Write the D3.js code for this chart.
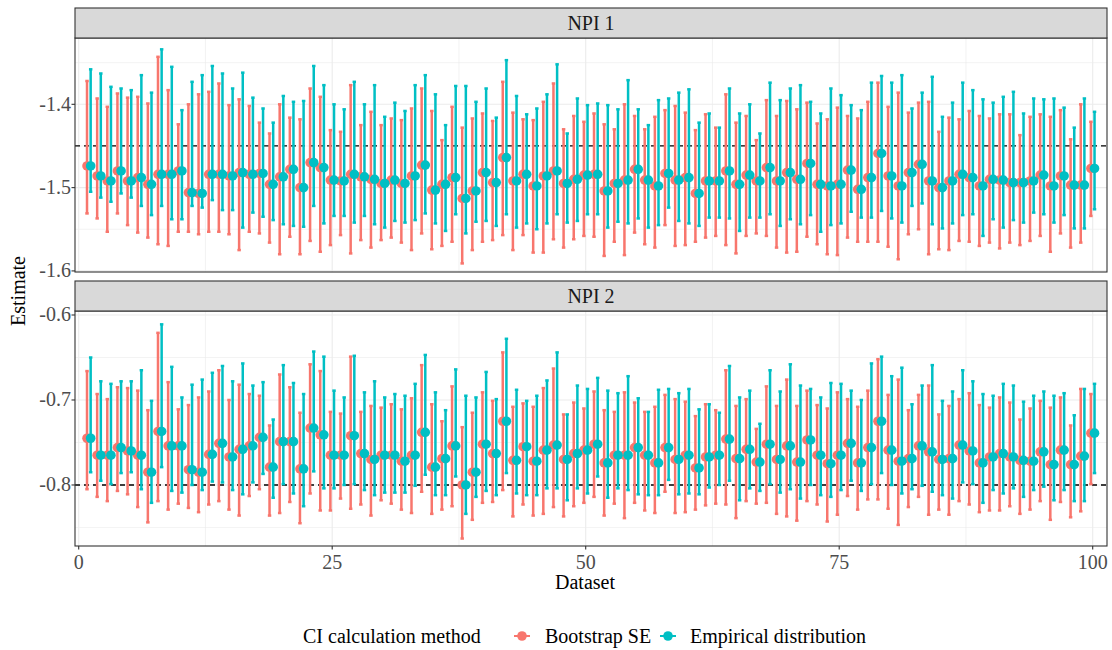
<!DOCTYPE html>
<html><head><meta charset="utf-8">
<script src="https://cdn.jsdelivr.net/npm/d3@7"></script>
<style>
body{margin:0;background:#fff}
text{font-family:"Liberation Serif","Times New Roman",serif}
</style>
</head><body>
<svg id="chart" width="1112" height="650"></svg>
<script>
// ---------- DATA ----------
const datasets = d3.range(1, 101);
const methods = ["Bootstrap SE", "Empirical distribution"];
const panelLabels = ["NPI 1", "NPI 2"];
const trueValues = [-1.45, -0.8];
const xTicks = [0, 25, 50, 75, 100];
const yTicks1 = [-1.6, -1.5, -1.4];
const yTicks2 = [-0.8, -0.7, -0.6];

const npi1Est = [-1.474,-1.486,-1.492,-1.480,-1.492,-1.488,-1.496,-1.484,-1.484,-1.480,
-1.506,-1.507,-1.484,-1.484,-1.486,-1.482,-1.484,-1.483,-1.496,-1.487,
-1.478,-1.500,-1.470,-1.476,-1.491,-1.492,-1.484,-1.487,-1.490,-1.495,
-1.491,-1.495,-1.486,-1.473,-1.503,-1.496,-1.488,-1.513,-1.504,-1.482,
-1.494,-1.464,-1.492,-1.484,-1.498,-1.486,-1.480,-1.495,-1.490,-1.485,
-1.484,-1.504,-1.495,-1.491,-1.478,-1.491,-1.498,-1.483,-1.491,-1.488,
-1.507,-1.492,-1.492,-1.480,-1.496,-1.485,-1.492,-1.476,-1.492,-1.482,
-1.490,-1.471,-1.496,-1.498,-1.496,-1.479,-1.502,-1.488,-1.459,-1.486,
-1.498,-1.482,-1.472,-1.492,-1.500,-1.492,-1.484,-1.488,-1.498,-1.490,
-1.491,-1.494,-1.494,-1.492,-1.485,-1.498,-1.486,-1.497,-1.497,-1.477];
const npi1BootLo = [-1.531,-1.537,-1.553,-1.531,-1.545,-1.554,-1.560,-1.568,-1.570,-1.553,
-1.553,-1.556,-1.553,-1.553,-1.556,-1.575,-1.553,-1.555,-1.566,-1.580,
-1.559,-1.580,-1.564,-1.577,-1.569,-1.557,-1.579,-1.563,-1.572,-1.563,
-1.560,-1.566,-1.575,-1.555,-1.574,-1.570,-1.565,-1.591,-1.575,-1.565,
-1.563,-1.557,-1.575,-1.557,-1.578,-1.578,-1.562,-1.572,-1.562,-1.558,
-1.559,-1.582,-1.565,-1.581,-1.554,-1.568,-1.572,-1.545,-1.570,-1.569,
-1.565,-1.560,-1.558,-1.569,-1.579,-1.558,-1.555,-1.558,-1.572,-1.578,
-1.577,-1.559,-1.568,-1.580,-1.581,-1.560,-1.565,-1.565,-1.565,-1.571,
-1.586,-1.556,-1.550,-1.580,-1.574,-1.575,-1.564,-1.565,-1.570,-1.566,
-1.573,-1.566,-1.569,-1.564,-1.558,-1.577,-1.555,-1.572,-1.566,-1.534];
const npi1BootHi = [-1.372,-1.393,-1.403,-1.387,-1.392,-1.391,-1.399,-1.343,-1.383,-1.424,
-1.400,-1.388,-1.385,-1.375,-1.401,-1.394,-1.402,-1.422,-1.435,-1.400,
-1.416,-1.418,-1.381,-1.391,-1.431,-1.433,-1.377,-1.425,-1.409,-1.425,
-1.417,-1.419,-1.405,-1.381,-1.408,-1.443,-1.403,-1.428,-1.417,-1.411,
-1.420,-1.373,-1.410,-1.418,-1.419,-1.397,-1.375,-1.430,-1.414,-1.421,
-1.411,-1.424,-1.430,-1.400,-1.414,-1.430,-1.415,-1.407,-1.402,-1.410,
-1.431,-1.412,-1.428,-1.388,-1.422,-1.414,-1.443,-1.395,-1.414,-1.396,
-1.406,-1.398,-1.423,-1.418,-1.404,-1.414,-1.417,-1.397,-1.374,-1.403,
-1.386,-1.410,-1.398,-1.397,-1.433,-1.416,-1.418,-1.408,-1.414,-1.417,
-1.412,-1.412,-1.437,-1.415,-1.412,-1.415,-1.407,-1.442,-1.400,-1.421];
const npi1EmpLo = [-1.505,-1.512,-1.517,-1.507,-1.512,-1.522,-1.533,-1.522,-1.538,-1.538,
-1.522,-1.524,-1.515,-1.527,-1.527,-1.548,-1.530,-1.535,-1.539,-1.544,
-1.546,-1.547,-1.522,-1.543,-1.534,-1.534,-1.542,-1.534,-1.544,-1.548,
-1.540,-1.542,-1.539,-1.531,-1.543,-1.552,-1.532,-1.555,-1.541,-1.540,
-1.546,-1.532,-1.548,-1.543,-1.550,-1.543,-1.532,-1.542,-1.540,-1.532,
-1.532,-1.548,-1.541,-1.543,-1.537,-1.548,-1.545,-1.524,-1.540,-1.543,
-1.546,-1.536,-1.536,-1.537,-1.552,-1.536,-1.536,-1.532,-1.546,-1.538,
-1.544,-1.533,-1.553,-1.545,-1.543,-1.529,-1.536,-1.536,-1.528,-1.537,
-1.542,-1.522,-1.519,-1.544,-1.549,-1.543,-1.533,-1.532,-1.558,-1.538,
-1.548,-1.539,-1.542,-1.530,-1.532,-1.542,-1.533,-1.549,-1.549,-1.526];
const npi1EmpHi = [-1.358,-1.363,-1.379,-1.381,-1.383,-1.365,-1.386,-1.334,-1.355,-1.407,
-1.373,-1.365,-1.354,-1.363,-1.381,-1.362,-1.392,-1.405,-1.422,-1.390,
-1.397,-1.396,-1.354,-1.377,-1.400,-1.406,-1.373,-1.400,-1.377,-1.415,
-1.398,-1.408,-1.377,-1.365,-1.388,-1.425,-1.378,-1.378,-1.397,-1.381,
-1.416,-1.347,-1.390,-1.412,-1.405,-1.388,-1.352,-1.435,-1.393,-1.401,
-1.399,-1.401,-1.406,-1.371,-1.406,-1.425,-1.395,-1.393,-1.386,-1.382,
-1.422,-1.411,-1.428,-1.381,-1.411,-1.400,-1.435,-1.374,-1.395,-1.381,
-1.377,-1.397,-1.411,-1.381,-1.389,-1.401,-1.407,-1.374,-1.366,-1.374,
-1.365,-1.405,-1.386,-1.367,-1.415,-1.398,-1.374,-1.383,-1.394,-1.398,
-1.391,-1.385,-1.411,-1.393,-1.394,-1.393,-1.404,-1.428,-1.393,-1.409];

const npi2Est = [-0.745,-0.765,-0.765,-0.756,-0.760,-0.765,-0.785,-0.737,-0.754,-0.754,
-0.782,-0.785,-0.764,-0.751,-0.767,-0.758,-0.754,-0.744,-0.779,-0.749,
-0.749,-0.781,-0.733,-0.741,-0.765,-0.765,-0.742,-0.763,-0.770,-0.765,
-0.765,-0.772,-0.765,-0.738,-0.779,-0.769,-0.754,-0.800,-0.785,-0.752,
-0.763,-0.725,-0.771,-0.755,-0.772,-0.759,-0.753,-0.770,-0.763,-0.759,
-0.752,-0.774,-0.765,-0.765,-0.756,-0.765,-0.774,-0.756,-0.770,-0.765,
-0.780,-0.767,-0.765,-0.746,-0.769,-0.758,-0.773,-0.752,-0.770,-0.754,
-0.773,-0.747,-0.765,-0.775,-0.765,-0.751,-0.774,-0.756,-0.725,-0.759,
-0.772,-0.769,-0.754,-0.761,-0.770,-0.769,-0.753,-0.760,-0.774,-0.767,
-0.763,-0.767,-0.771,-0.772,-0.761,-0.776,-0.759,-0.776,-0.766,-0.739];
const npi2BootLo = [-0.805,-0.814,-0.819,-0.807,-0.811,-0.826,-0.844,-0.819,-0.829,-0.822,
-0.827,-0.832,-0.823,-0.819,-0.829,-0.836,-0.813,-0.805,-0.836,-0.833,
-0.820,-0.845,-0.810,-0.830,-0.830,-0.816,-0.828,-0.823,-0.836,-0.818,
-0.822,-0.829,-0.833,-0.808,-0.834,-0.829,-0.825,-0.863,-0.841,-0.821,
-0.820,-0.806,-0.837,-0.823,-0.836,-0.834,-0.826,-0.837,-0.825,-0.821,
-0.814,-0.836,-0.822,-0.839,-0.821,-0.830,-0.833,-0.808,-0.833,-0.832,
-0.829,-0.824,-0.822,-0.823,-0.839,-0.819,-0.822,-0.821,-0.834,-0.837,
-0.842,-0.819,-0.823,-0.843,-0.835,-0.813,-0.829,-0.817,-0.817,-0.828,
-0.847,-0.826,-0.814,-0.835,-0.829,-0.835,-0.819,-0.823,-0.832,-0.830,
-0.830,-0.825,-0.834,-0.829,-0.819,-0.841,-0.820,-0.838,-0.831,-0.799];
const npi2BootHi = [-0.666,-0.693,-0.699,-0.685,-0.686,-0.689,-0.712,-0.621,-0.679,-0.711,
-0.706,-0.697,-0.690,-0.665,-0.700,-0.682,-0.693,-0.695,-0.730,-0.670,
-0.685,-0.715,-0.658,-0.666,-0.714,-0.716,-0.649,-0.714,-0.707,-0.709,
-0.705,-0.711,-0.698,-0.659,-0.705,-0.725,-0.684,-0.732,-0.715,-0.691,
-0.701,-0.644,-0.708,-0.704,-0.708,-0.686,-0.663,-0.717,-0.703,-0.710,
-0.690,-0.712,-0.714,-0.691,-0.703,-0.714,-0.708,-0.694,-0.699,-0.702,
-0.719,-0.705,-0.712,-0.665,-0.707,-0.699,-0.734,-0.684,-0.707,-0.676,
-0.707,-0.689,-0.706,-0.710,-0.691,-0.699,-0.708,-0.689,-0.652,-0.694,
-0.676,-0.712,-0.694,-0.683,-0.717,-0.707,-0.699,-0.692,-0.706,-0.709,
-0.697,-0.703,-0.723,-0.710,-0.701,-0.709,-0.697,-0.730,-0.687,-0.693];
const npi2EmpLo = [-0.785,-0.795,-0.799,-0.786,-0.785,-0.805,-0.821,-0.779,-0.807,-0.809,
-0.800,-0.806,-0.796,-0.797,-0.806,-0.811,-0.797,-0.787,-0.815,-0.799,
-0.810,-0.825,-0.784,-0.804,-0.804,-0.800,-0.799,-0.806,-0.812,-0.809,
-0.809,-0.809,-0.801,-0.788,-0.812,-0.812,-0.790,-0.834,-0.814,-0.807,
-0.812,-0.786,-0.810,-0.812,-0.812,-0.804,-0.804,-0.818,-0.804,-0.810,
-0.790,-0.815,-0.804,-0.806,-0.811,-0.812,-0.812,-0.794,-0.811,-0.810,
-0.811,-0.803,-0.800,-0.795,-0.818,-0.804,-0.807,-0.799,-0.809,-0.805,
-0.816,-0.800,-0.812,-0.814,-0.806,-0.795,-0.807,-0.799,-0.786,-0.800,
-0.810,-0.805,-0.801,-0.808,-0.812,-0.816,-0.797,-0.799,-0.821,-0.806,
-0.810,-0.804,-0.814,-0.806,-0.802,-0.818,-0.806,-0.819,-0.819,-0.786];
const npi2EmpHi = [-0.650,-0.678,-0.681,-0.678,-0.678,-0.665,-0.701,-0.611,-0.661,-0.697,
-0.682,-0.676,-0.668,-0.660,-0.678,-0.657,-0.683,-0.679,-0.723,-0.659,
-0.680,-0.693,-0.643,-0.649,-0.689,-0.697,-0.648,-0.691,-0.678,-0.697,
-0.693,-0.695,-0.681,-0.647,-0.691,-0.712,-0.664,-0.695,-0.697,-0.667,
-0.699,-0.628,-0.688,-0.701,-0.695,-0.677,-0.644,-0.717,-0.683,-0.687,
-0.674,-0.689,-0.692,-0.672,-0.698,-0.714,-0.688,-0.687,-0.692,-0.687,
-0.711,-0.705,-0.715,-0.660,-0.697,-0.689,-0.728,-0.665,-0.690,-0.658,
-0.683,-0.687,-0.697,-0.680,-0.681,-0.689,-0.700,-0.657,-0.649,-0.672,
-0.662,-0.705,-0.683,-0.659,-0.701,-0.690,-0.665,-0.678,-0.693,-0.695,
-0.681,-0.683,-0.702,-0.695,-0.690,-0.695,-0.692,-0.718,-0.687,-0.681];

// ---------- LAYOUT ----------
const colors = {"Bootstrap SE": "#F8766D", "Empirical distribution": "#00BFC4"};
const svg = d3.select("#chart");
const left = 75, right = 1107;
const x = d3.scaleLinear().domain([-0.365, 101.41]).range([left, right]);
const dodge = 0.18;
const capHalf = 0.17;

const panels = [
  {label: panelLabels[0], est: npi1Est, lo: [npi1BootLo, npi1EmpLo], hi: [npi1BootHi, npi1EmpHi],
   stripTop: 8, top: 38, bottom: 272, domain: [-1.6013, -1.3204], ticks: yTicks1, ref: trueValues[0]},
  {label: panelLabels[1], est: npi2Est, lo: [npi2BootLo, npi2EmpLo], hi: [npi2BootHi, npi2EmpHi],
   stripTop: 281, top: 311, bottom: 546, domain: [-0.8718, -0.5953], ticks: yTicks2, ref: trueValues[1]}
];

const fmt = v => v.toFixed(1);

panels.forEach((p, pi) => {
  const y = d3.scaleLinear().domain(p.domain).range([p.bottom, p.top]);
  const g = svg.append("g");
  g.append("rect").attr("x", left).attr("y", p.top).attr("width", right - left).attr("height", p.bottom - p.top).attr("fill", "#fff");
  const minorY = d3.range(p.ticks.length + 1).map(i => p.ticks[0] - 0.05 + i * 0.1).filter(v => v > p.domain[0] && v < p.domain[1]);
  const minorX = [12.5, 37.5, 62.5, 87.5];
  g.selectAll(".myg").data(minorY).join("line")
    .attr("x1", left).attr("x2", right).attr("y1", d => y(d)).attr("y2", d => y(d))
    .attr("stroke", "#ebebeb").attr("stroke-width", 0.6);
  g.selectAll(".mxg").data(minorX).join("line")
    .attr("x1", d => x(d)).attr("x2", d => x(d)).attr("y1", p.top).attr("y2", p.bottom)
    .attr("stroke", "#ebebeb").attr("stroke-width", 0.6);
  g.selectAll(".yg").data(p.ticks).join("line")
    .attr("x1", left).attr("x2", right).attr("y1", d => y(d)).attr("y2", d => y(d))
    .attr("stroke", "#ebebeb").attr("stroke-width", 1.1);
  g.selectAll(".xg").data(xTicks).join("line")
    .attr("x1", d => x(d)).attr("x2", d => x(d)).attr("y1", p.top).attr("y2", p.bottom)
    .attr("stroke", "#ebebeb").attr("stroke-width", 1.1);

  g.append("line").attr("x1", left).attr("x2", right).attr("y1", y(p.ref)).attr("y2", y(p.ref))
    .attr("stroke", "#000").attr("stroke-width", 1.3).attr("stroke-dasharray", "5,4");

  methods.forEach((m, mi) => {
    const off = mi === 0 ? -dodge : dodge;
    const eg = g.append("g").attr("stroke", colors[m]).attr("stroke-width", 2.5).attr("fill", "none");
    datasets.forEach((d, i) => {
      const cx = x(d + off);
      const lo = p.lo[mi][i], hi = p.hi[mi][i];
      eg.append("line").attr("x1", cx).attr("x2", cx).attr("y1", y(lo)).attr("y2", y(hi));
      eg.append("line").attr("x1", x(d + off - capHalf)).attr("x2", x(d + off + capHalf)).attr("y1", y(lo)).attr("y2", y(lo));
      eg.append("line").attr("x1", x(d + off - capHalf)).attr("x2", x(d + off + capHalf)).attr("y1", y(hi)).attr("y2", y(hi));
    });
  });
  methods.forEach((m, mi) => {
    const off = mi === 0 ? -dodge : dodge;
    g.append("g").selectAll("circle").data(datasets).join("circle")
      .attr("cx", d => x(d + off)).attr("cy", (d, i) => y(p.est[i])).attr("r", 4.8)
      .attr("fill", colors[m]);
  });

  g.append("rect").attr("x", left).attr("y", p.top).attr("width", right - left).attr("height", p.bottom - p.top)
    .attr("fill", "none").attr("stroke", "#333").attr("stroke-width", 1.1);
  g.append("rect").attr("x", left).attr("y", p.stripTop).attr("width", right - left).attr("height", p.top - p.stripTop)
    .attr("fill", "#d9d9d9").attr("stroke", "#333").attr("stroke-width", 1.1);
  g.append("text").attr("x", (left + right) / 2).attr("y", (p.stripTop + p.top) / 2 + 7)
    .attr("text-anchor", "middle").attr("font-size", 20).attr("fill", "#1a1a1a").text(p.label);

  const ya = g.append("g");
  ya.selectAll("line").data(p.ticks).join("line")
    .attr("x1", left - 3.5).attr("x2", left).attr("y1", d => y(d)).attr("y2", d => y(d))
    .attr("stroke", "#333").attr("stroke-width", 1.1);
  ya.selectAll("text").data(p.ticks).join("text")
    .attr("x", left - 4).attr("y", d => y(d) + 6.5).attr("text-anchor", "end")
    .attr("font-size", 20).attr("fill", "#4d4d4d").text(fmt);

  if (pi === panels.length - 1) {
    const xa = g.append("g");
    xa.selectAll("line").data(xTicks).join("line")
      .attr("x1", d => x(d)).attr("x2", d => x(d)).attr("y1", p.bottom).attr("y2", p.bottom + 3.5)
      .attr("stroke", "#333").attr("stroke-width", 1.1);
    xa.selectAll("text").data(xTicks).join("text")
      .attr("x", d => x(d)).attr("y", p.bottom + 23).attr("text-anchor", "middle")
      .attr("font-size", 20).attr("fill", "#4d4d4d").text(d => d);
  }
});

svg.append("text").attr("x", 585).attr("y", 589).attr("text-anchor", "middle").attr("font-size", 20).attr("fill", "#000").text("Dataset");
svg.append("text").attr("transform", "translate(25,291) rotate(-90)").attr("text-anchor", "middle").attr("font-size", 20).attr("fill", "#000").text("Estimate");

const ly = 636;
svg.append("text").attr("x", 303).attr("y", ly + 7).attr("font-size", 20).attr("fill", "#000").text("CI calculation method");
const keyX = [522, 668], labX = [545, 690];
methods.forEach((m, mi) => {
  svg.append("line").attr("x1", keyX[mi] - 8).attr("x2", keyX[mi] + 8).attr("y1", ly).attr("y2", ly)
    .attr("stroke", colors[m]).attr("stroke-width", 2);
  svg.append("circle").attr("cx", keyX[mi]).attr("cy", ly).attr("r", 4.8).attr("fill", colors[m]);
  svg.append("text").attr("x", labX[mi]).attr("y", ly + 7).attr("font-size", 20).attr("fill", "#000").text(m);
});
</script>
</body></html>
